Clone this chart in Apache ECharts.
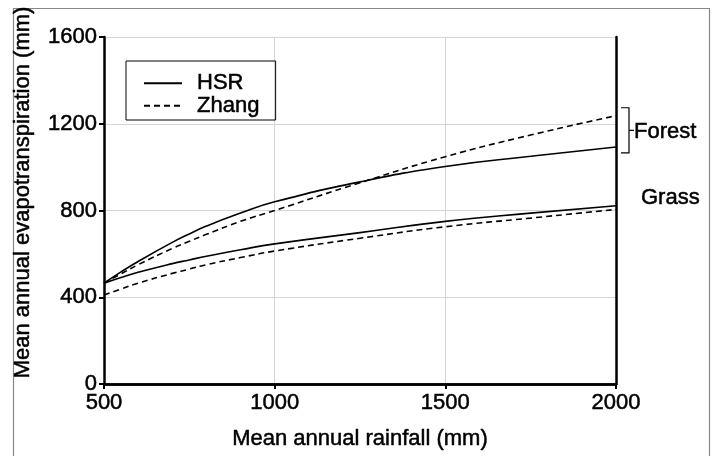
<!DOCTYPE html>
<html><head><meta charset="utf-8">
<script src="https://cdn.jsdelivr.net/npm/echarts@6/dist/echarts.min.js"></script>
<style>html,body{margin:0;padding:0;background:#fff}#c{width:712px;height:456px}</style>
</head><body><div id="c"></div>
<script>
const rainfall = [500, 550, 600, 700, 750, 800, 900, 1000, 1250, 1500, 1750, 2000];
const forestHSR = [465, 517, 565, 653, 692, 728, 788, 840, 932, 1003, 1050, 1093];
const forestZhang = [465, 508, 550, 625, 658, 690, 750, 800, 928, 1048, 1148, 1237];
const grassHSR = [465, 491, 515, 555, 572, 589, 619, 646, 698, 750, 788, 822];
const grassZhang = [410, 438, 465, 510, 530, 550, 583, 613, 672, 725, 765, 805];
const xTicks = [500, 1000, 1500, 2000];
const yTicks = [0, 400, 800, 1200, 1600];

const FONT = 'Liberation Sans, Arial, sans-serif';
const txt = (size) => ({fontFamily: FONT, fontSize: size, color: '#000', textBorderColor: '#000', textBorderWidth: 0.5});
const pair = (ys) => rainfall.map((x, i) => [x, ys[i]]);
const chart = echarts.init(document.getElementById('c'), null, {renderer: 'canvas'});
const solid = {color: '#000', width: 1.6, type: 'solid'};
const dashed = {color: '#000', width: 1.6, type: [6, 4]};
const mk = (name, data, ls) => ({name, type: 'line', data: pair(data), smooth: 0.5, symbol: 'none', lineStyle: ls, itemStyle: {color: '#000'}, z: 3});

chart.setOption({
  animation: false,
  grid: {left: 104, right: 96, top: 37, bottom: 72},
  legend: {
    data: ['HSR', 'Zhang'], orient: 'vertical', left: 126, top: 61,
    borderColor: '#000', borderWidth: 1, padding: [11, 16, 3, 17],
    itemWidth: 38, itemHeight: 14, itemGap: 0,
    textStyle: Object.assign(txt(22), {padding: [0, 0, 0, 10], lineHeight: 21}),
    itemStyle: {opacity: 0}
  },
  xAxis: [{
    type: 'value', min: 500, max: 2000, interval: 500,
    name: 'Mean annual rainfall (mm)', nameLocation: 'middle', nameGap: 44,
    nameTextStyle: txt(22),
    axisLine: {onZero: false, lineStyle: {color: '#000', width: 2.5}},
    axisTick: {show: true, inside: false, length: 5, lineStyle: {color: '#000', width: 2}},
    axisLabel: Object.assign(txt(22), {margin: 8, formatter: (v) => String(v)}),
    splitLine: {show: true, lineStyle: {color: '#d4d4d4', width: 1}}
  }, {
    type: 'value', position: 'top', min: 500, max: 2000,
    axisLine: {show: true, lineStyle: {color: '#000', width: 2.5}},
    axisTick: {show: false}, axisLabel: {show: false}, splitLine: {show: false}
  }],
  yAxis: [{
    type: 'value', min: 0, max: 1600, interval: 400,
    name: 'Mean annual evapotranspiration (mm)', nameLocation: 'middle', nameGap: 70,
    nameTextStyle: Object.assign(txt(22), {padding: [0, 0, 0, 36]}),
    axisLine: {show: true, onZero: false, lineStyle: {color: '#000', width: 2.5}},
    axisTick: {show: true, inside: false, length: 5, lineStyle: {color: '#000', width: 2}},
    axisLabel: Object.assign(txt(22), {margin: 7, formatter: (v) => String(v)}),
    splitLine: {show: true, lineStyle: {color: '#d4d4d4', width: 1}}
  }, {
    type: 'value', position: 'right', min: 0, max: 1600,
    axisLine: {show: true, lineStyle: {color: '#000', width: 2.5}},
    axisTick: {show: false}, axisLabel: {show: false}, splitLine: {show: false}
  }],
  series: [
    mk('HSR', forestHSR, solid),
    mk('Zhang', forestZhang, dashed),
    mk('HSR', grassHSR, solid),
    mk('Zhang', grassZhang, dashed)
  ]
});

// annotations anchored to data ends
const last = rainfall.length - 1;
const pTop = chart.convertToPixel({gridIndex: 0}, [rainfall[last], forestZhang[last]]);
const pBot = chart.convertToPixel({gridIndex: 0}, [rainfall[last], forestHSR[last]]);
const pGrass = chart.convertToPixel({gridIndex: 0}, [rainfall[last], grassHSR[last]]);
const bx = pTop[0] + 13, yT = pTop[1] - 8, yB = pBot[1] + 6, yM = (yT + yB) / 2;
const lbl = (s) => ({text: s, font: '22px ' + FONT, fill: '#000', stroke: '#000', lineWidth: 0.5, verticalAlign: 'middle', textVerticalAlign: 'middle'});
chart.setOption({
  graphic: [
    {type: 'rect', shape: {x: 13.5, y: 8.5, width: 696, height: 460}, style: {fill: null, stroke: '#888', lineWidth: 1.2}, silent: true},
    {type: 'polyline', shape: {points: [[bx - 8, yT], [bx, yT], [bx, yB], [bx - 8, yB]]}, style: {stroke: '#000', lineWidth: 1.2, fill: null}},
    {type: 'line', shape: {x1: bx, y1: yM, x2: bx + 5, y2: yM}, style: {stroke: '#000', lineWidth: 1.2}},
    {type: 'text', x: bx + 5, y: yM + 2, style: lbl('Forest')},
    {type: 'text', x: bx + 12, y: pGrass[1] - 8, style: lbl('Grass')}
  ]
});
</script></body></html>
